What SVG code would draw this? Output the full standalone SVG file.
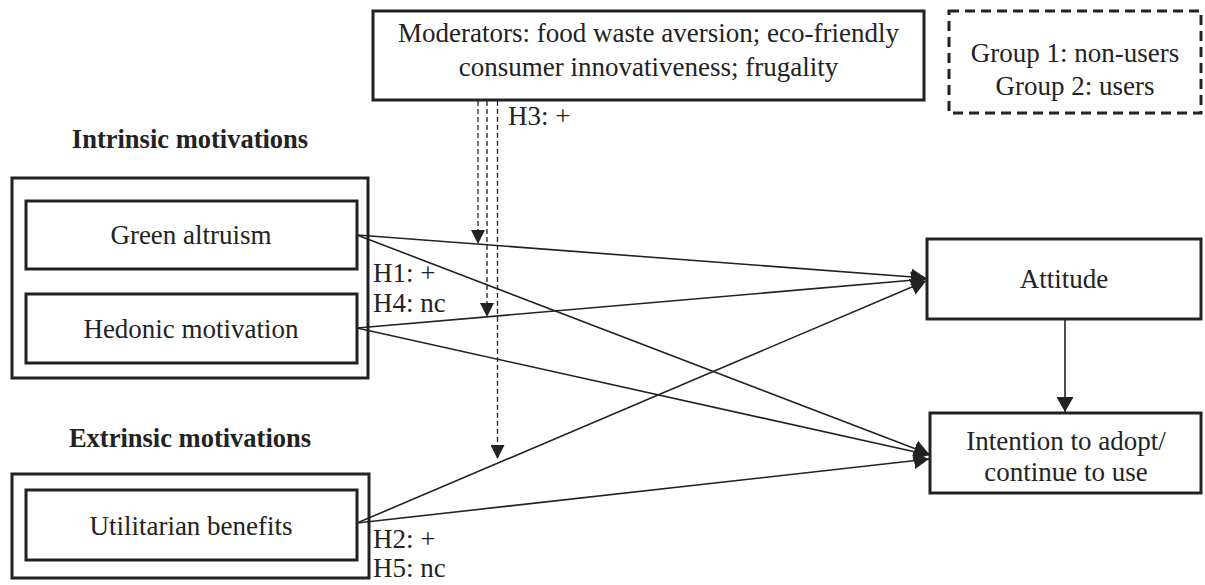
<svg xmlns="http://www.w3.org/2000/svg" width="1205" height="585" viewBox="0 0 1205 585">
<defs>
<style>
.box{fill:#fff;stroke:#222;stroke-width:3}
.dbox{fill:#fff;stroke:#222;stroke-width:3;stroke-dasharray:10 6}
.t{font-family:"Liberation Serif","Times New Roman",serif;font-size:27px;fill:#222}
.c{text-anchor:middle}
.b{font-weight:bold;font-size:26.5px}
.ln{stroke:#222;stroke-width:1.6;fill:none}
.dl{stroke:#222;stroke-width:1.3;fill:none;stroke-dasharray:5 3}
</style>
<marker id="ah" viewBox="0 0 15 17" refX="15" refY="8.5" markerWidth="15" markerHeight="17" markerUnits="userSpaceOnUse" orient="auto">
<path d="M0,0 L15,8.5 L0,17 z" fill="#222"/>
</marker>
<marker id="ahs" viewBox="0 0 14 14" refX="14" refY="7" markerWidth="14" markerHeight="14" markerUnits="userSpaceOnUse" orient="auto">
<path d="M0,0 L14,7 L0,14 z" fill="#222"/>
</marker>
</defs>
<rect width="1205" height="585" fill="#fff"/>

<g id="moderators">
<rect class="box" x="373" y="11" width="551" height="89"/>
<text class="t c" x="648.5" y="42">Moderators: food waste aversion; eco-friendly</text>
<text class="t c" x="648.5" y="76">consumer innovativeness; frugality</text>
</g>

<g id="groups">
<rect class="dbox" x="949" y="11" width="252" height="102"/>
<text class="t c" x="1075" y="62">Group 1: non-users</text>
<text class="t c" x="1075" y="95">Group 2: users</text>
</g>

<g id="intrinsic">
<text class="t b c" x="190" y="148">Intrinsic motivations</text>
<rect class="box" x="12" y="178" width="356" height="200"/>
</g>

<g id="green-altruism">
<rect class="box" x="26" y="201" width="331" height="68"/>
<text class="t c" x="191" y="244">Green altruism</text>
</g>

<g id="hedonic-motivation">
<rect class="box" x="26" y="294" width="331" height="69"/>
<text class="t c" x="191" y="338">Hedonic motivation</text>
</g>

<g id="extrinsic">
<text class="t b c" x="190" y="447">Extrinsic motivations</text>
<rect class="box" x="12" y="474" width="357" height="104"/>
</g>

<g id="utilitarian-benefits">
<rect class="box" x="26" y="490" width="331" height="70"/>
<text class="t c" x="191" y="535">Utilitarian benefits</text>
</g>

<g id="attitude">
<rect class="box" x="927" y="239" width="274" height="80"/>
<text class="t c" x="1064" y="288">Attitude</text>
</g>

<g id="intention">
<rect class="box" x="930" y="413" width="271" height="80"/>
<text class="t c" x="1066" y="450">Intention to adopt/</text>
<text class="t c" x="1066" y="481">continue to use</text>
</g>

<g id="connectors">
<line class="ln" x1="357" y1="235" x2="926" y2="278" marker-end="url(#ah)"/>
<line class="ln" x1="357" y1="235" x2="929" y2="454" marker-end="url(#ah)"/>
<line class="ln" x1="357" y1="328" x2="926" y2="279" marker-end="url(#ah)"/>
<line class="ln" x1="357" y1="328" x2="929" y2="455" marker-end="url(#ah)"/>
<line class="ln" x1="357" y1="523" x2="926" y2="281" marker-end="url(#ah)"/>
<line class="ln" x1="357" y1="523" x2="929" y2="459" marker-end="url(#ah)"/>
<line class="ln" x1="1065" y1="320" x2="1065" y2="412" marker-end="url(#ah)"/>
<line class="dl" x1="478" y1="101" x2="478" y2="244" marker-end="url(#ahs)"/>
<line class="dl" x1="487" y1="101" x2="487" y2="317" marker-end="url(#ahs)"/>
<line class="dl" x1="497.5" y1="101" x2="497.5" y2="459" marker-end="url(#ahs)"/>
</g>

<g id="labels">
<text class="t" x="508" y="125">H3: +</text>
<text class="t" x="373" y="282">H1: +</text>
<text class="t" x="373" y="312">H4: nc</text>
<text class="t" x="373" y="548">H2: +</text>
<text class="t" x="373" y="577">H5: nc</text>
</g>
</svg>
